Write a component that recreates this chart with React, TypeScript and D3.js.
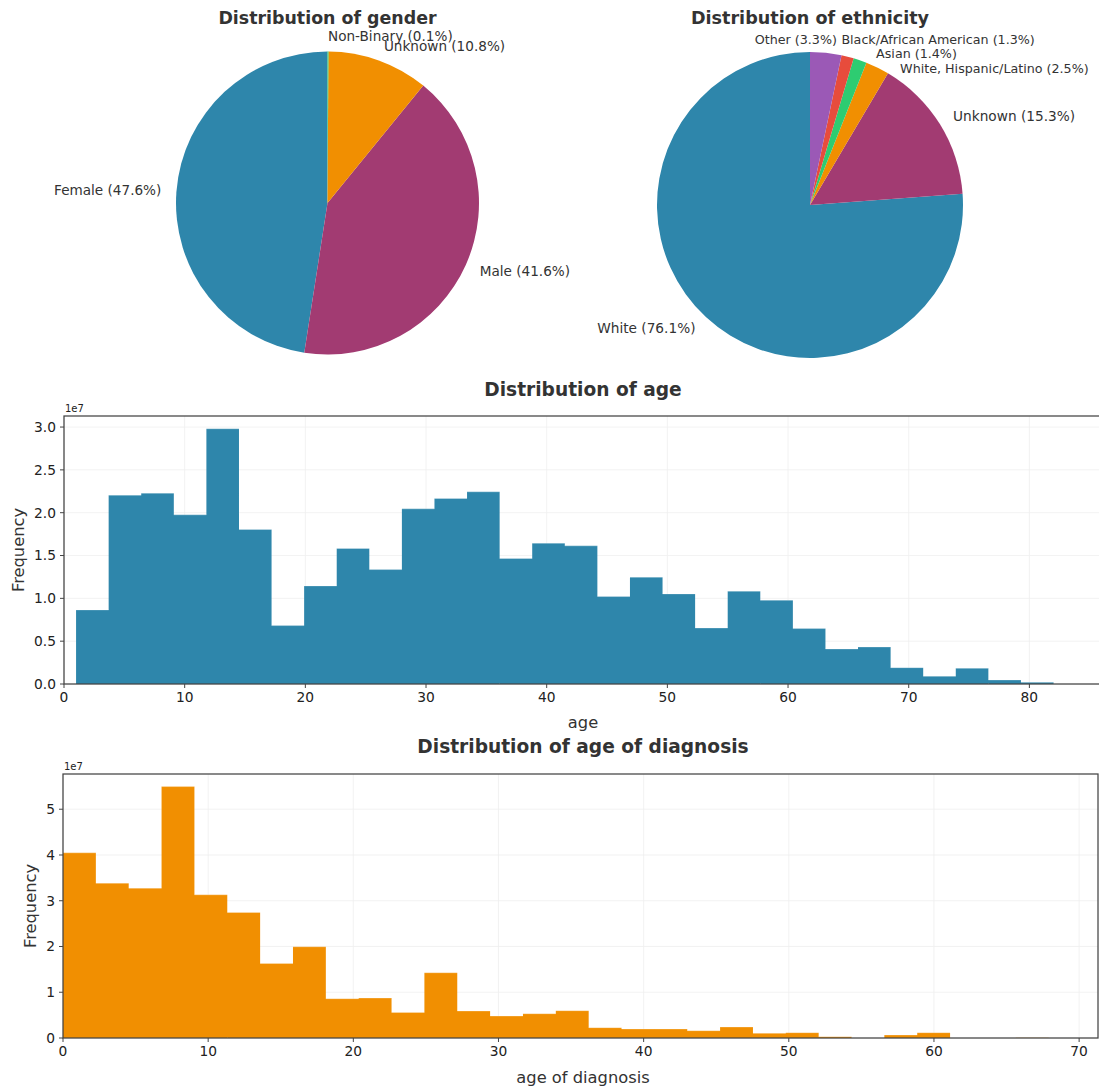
import React from 'react';
import * as d3 from 'd3';

// ---------- DATA ----------
const palette = ['#2E86AB', '#A23B72', '#F18F01', '#2ECC71', '#E74C3C', '#9B59B6'];

const genderLabels = ['Female', 'Male', 'Unknown', 'Non-Binary'];
const genderValues = [47.6, 41.6, 10.8, 0.1];

const ethnicityLabels = ['White', 'Unknown', 'White, Hispanic/Latino', 'Asian', 'Black/African American', 'Other'];
const ethnicityValues = [76.1, 15.3, 2.5, 1.4, 1.3, 3.3];

// age histogram (counts in units of 1e7), 30 equal bins between min and max
const ageBinRange = [1, 82];
const ageCounts = [
  0.865, 2.205, 2.228, 1.975, 2.98, 1.804, 0.682, 1.145, 1.582, 1.336,
  2.045, 2.166, 2.244, 1.465, 1.644, 1.613, 1.021, 1.247, 1.052, 0.654,
  1.083, 0.978, 0.647, 0.409, 0.432, 0.191, 0.09, 0.183, 0.047, 0.019,
];
const ageXTicks = [0, 10, 20, 30, 40, 50, 60, 70, 80];
const ageYTicks = [0, 0.5, 1.0, 1.5, 2.0, 2.5, 3.0];

// age of diagnosis histogram (counts in units of 1e7)
const diagBinRange = [0, 67.9];
const diagCounts = [
  4.047, 3.384, 3.275, 5.495, 3.13, 2.744, 1.63, 1.994, 0.859, 0.873,
  0.56, 1.426, 0.59, 0.48, 0.531, 0.597, 0.226, 0.197, 0.197, 0.16,
  0.24, 0.102, 0.116, 0.03, 0, 0.066, 0.116, 0, 0, 0.005,
];
const diagXTicks = [0, 10, 20, 30, 40, 50, 60, 70];
const diagYTicks = [0, 1, 2, 3, 4, 5];

const FONT = '"DejaVu Sans", Verdana, sans-serif';
const TEXT = '#333333';

type Nudge = { dx: number; dy: number; anchor?: string; size?: number };

function PieChart(props: {
  cx: number; cy: number; r: number; labels: string[]; values: number[];
  title: string; titleY: number; titleSize: number; labelSize: number; nudges?: Record<number, Nudge>;
}) {
  const { cx, cy, r, labels, values, title, titleY, titleSize, labelSize, nudges = {} } = props;
  const pie = d3.pie<number>().sort(null).value((d) => d).startAngle(0).endAngle(-2 * Math.PI);
  const arcs = pie(values);
  const arc = d3.arc<d3.PieArcDatum<number>>().innerRadius(0).outerRadius(r);
  const lr = r * 1.1;
  return (
    <g>
      <text x={cx} y={titleY} textAnchor="middle" fontFamily={FONT} fontWeight="bold" fontSize={titleSize} fill={TEXT}>
        {title}
      </text>
      <g transform={`translate(${cx},${cy})`}>
        {arcs.map((a, i) => (
          <path key={i} d={arc(a) || ''} fill={palette[i % palette.length]} />
        ))}
        {arcs.map((a, i) => {
          const mid = (a.startAngle + a.endAngle) / 2;
          const x = lr * Math.sin(mid);
          const y = -lr * Math.cos(mid);
          const n = nudges[i] || { dx: 0, dy: 0 };
          const anchor = n.anchor || (x > 0 ? 'start' : 'end');
          return (
            <text key={'l' + i} x={x + n.dx} y={y + n.dy} dy="0.35em" textAnchor={anchor}
              fontFamily={FONT} fontSize={n.size || labelSize} fill={TEXT}>
              {`${labels[i]} (${values[i].toFixed(1)}%)`}
            </text>
          );
        })}
      </g>
    </g>
  );
}

function Histogram(props: {
  left: number; right: number; top: number; bottom: number;
  xMax: number; yMax: number; binRange: number[]; counts: number[]; color: string;
  xTicks: number[]; yTicks: number[]; yFmt: (v: number) => string;
  title: string; titleY: number; xLabel: string; xLabelY: number; yLabelX: number;
}) {
  const { left, right, top, bottom, xMax, yMax, binRange, counts, color, xTicks, yTicks, yFmt,
    title, titleY, xLabel, xLabelY, yLabelX } = props;
  const x = d3.scaleLinear().domain([0, xMax]).range([left, right]);
  const y = d3.scaleLinear().domain([0, yMax]).range([bottom, top]);
  const n = counts.length;
  const bw = (binRange[1] - binRange[0]) / n;
  const cxMid = 583;
  const p = d3.path();
  const tops = d3.path();
  counts.forEach((c, i) => {
    if (c <= 0) return;
    const x0 = x(binRange[0] + i * bw);
    const x1 = x(binRange[0] + (i + 1) * bw);
    p.rect(x0, y(c), x1 - x0, bottom - y(c));
    tops.moveTo(x0, y(c));
    tops.lineTo(x1, y(c));
  });
  return (
    <g fontFamily={FONT}>
      <text x={cxMid} y={titleY} textAnchor="middle" fontWeight="bold" fontSize={18.6} fill={TEXT}>{title}</text>
      {/* grid */}
      {xTicks.map((t) => (
        <line key={'gx' + t} x1={x(t)} x2={x(t)} y1={top} y2={bottom} stroke="#efefef" strokeWidth={0.8} />
      ))}
      {yTicks.map((t) => (
        <line key={'gy' + t} x1={left} x2={right} y1={y(t)} y2={y(t)} stroke="#efefef" strokeWidth={0.8} />
      ))}
      {/* bars */}
      <path d={p.toString()} fill={color} />
      <path d={tops.toString()} fill="none" stroke="#ffffff" strokeOpacity={0.35} strokeWidth={0.8} />
      {/* spines */}
      <rect x={left} y={top} width={right - left} height={bottom - top} fill="none" stroke="#444" strokeWidth={1.25} />
      {/* x ticks */}
      {xTicks.map((t) => (
        <g key={'xt' + t}>
          <line x1={x(t)} x2={x(t)} y1={bottom} y2={bottom + 4} stroke="#444" strokeWidth={1} />
          <text x={x(t)} y={bottom + 13.5} dy="0.35em" textAnchor="middle" fontSize={13.8} fill="#222">{t}</text>
        </g>
      ))}
      {/* y ticks */}
      {yTicks.map((t) => (
        <g key={'yt' + t}>
          <line x1={left - 4} x2={left} y1={y(t)} y2={y(t)} stroke="#444" strokeWidth={1} />
          <text x={left - 8} y={y(t)} dy="0.35em" textAnchor="end" fontSize={13.8} fill="#222">{yFmt(t)}</text>
        </g>
      ))}
      <text x={left + 1} y={top - 4} fontSize={10} fill="#222">1e7</text>
      <text x={cxMid} y={xLabelY} dy="0.35em" textAnchor="middle" fontSize={16.3} fill={TEXT}>{xLabel}</text>
      <text transform={`translate(${yLabelX},${(top + bottom) / 2}) rotate(-90)`} dy="0.35em" textAnchor="middle"
        fontSize={16.3} fill={TEXT}>Frequency</text>
    </g>
  );
}

export default function App() {
  const ethNudges: Record<number, Nudge> = {
    2: { dx: 16, dy: 14.6, size: 12.7 },
    3: { dx: 11, dy: 8, size: 12.7 },
    4: { dx: -10, dy: -2, size: 12.7 },
    5: { dx: 9.5, dy: 2.3, anchor: 'end', size: 12.7 },
  };
  return (
    <svg width={1099} height={1089} style={{ position: 'absolute', left: 0, top: 0, background: '#fff' }}>
      <rect width={1099} height={1089} fill="#fff" />
      <PieChart cx={327.5} cy={203} r={151.5} labels={genderLabels} values={genderValues}
        title="Distribution of gender" titleY={24} titleSize={17.4} labelSize={13.6} />
      <PieChart cx={810} cy={205} r={153} labels={ethnicityLabels} values={ethnicityValues}
        title="Distribution of ethnicity" titleY={24} titleSize={17.6} labelSize={13.7} nudges={ethNudges} />
      <Histogram left={64} right={1103} top={416} bottom={684} xMax={86.1} yMax={3.129}
        binRange={ageBinRange} counts={ageCounts} color={palette[0]}
        xTicks={ageXTicks} yTicks={ageYTicks} yFmt={(v) => v.toFixed(1)}
        title="Distribution of age" titleY={396} xLabel="age" xLabelY={722} yLabelX={18} />
      <Histogram left={63} right={1098} top={774} bottom={1038} xMax={71.3} yMax={5.77}
        binRange={diagBinRange} counts={diagCounts} color={palette[2]}
        xTicks={diagXTicks} yTicks={diagYTicks} yFmt={(v) => String(v)}
        title="Distribution of age of diagnosis" titleY={753} xLabel="age of diagnosis" xLabelY={1077} yLabelX={30} />
    </svg>
  );
}
